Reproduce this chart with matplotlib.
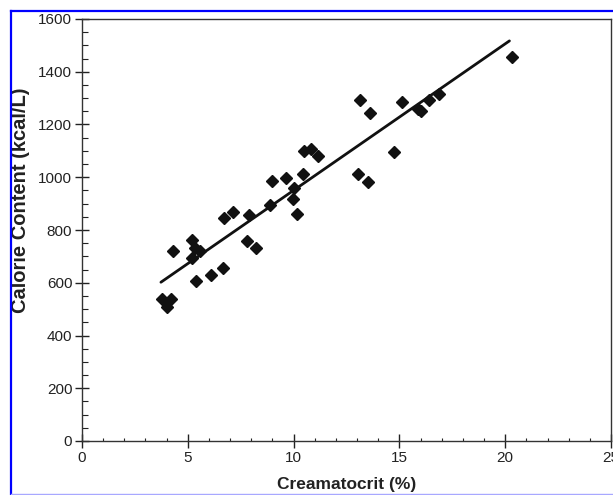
import matplotlib.pyplot as plt
from matplotlib.lines import Line2D
from matplotlib.ticker import MultipleLocator

plt.rcParams["font.family"] = ["Liberation Sans", "DejaVu Sans"]

# creamatocrit (%) vs calorie content (kcal/L)
creamatocrit = [3.8, 4.0, 4.2, 4.3, 5.2, 5.2, 5.35, 5.4, 5.6, 6.1, 6.65,
                6.7, 7.15, 7.8, 7.9, 8.2, 8.9, 9.0, 9.65, 10.0, 9.95, 10.15,
                10.45, 10.5, 10.8, 11.15, 13.05, 13.15, 13.5, 13.6, 14.75,
                15.1, 15.9, 16.0, 16.4, 16.85, 20.3]
calories = [538, 507, 538, 722, 762, 695, 731, 608, 720, 629, 655,
            847, 868, 758, 855, 733, 895, 986, 996, 958, 916, 861,
            1011, 1099, 1108, 1081, 1012, 1292, 983, 1242, 1097,
            1284, 1258, 1252, 1291, 1316, 1457]

# regression line end points
fit_x = [3.73, 20.2]
fit_y = [602, 1517]

fig = plt.figure(figsize=(6.13, 4.95), dpi=100)
ax = fig.add_axes([82 / 613, 54 / 495, 529 / 613, 422 / 495])

ax.plot(fit_x, fit_y, color="#111111", lw=2, solid_capstyle="round")
ax.plot(creamatocrit, calories, ls="none", marker="D", ms=5.8,
        color="#111111")

ax.set_xlim(0, 25)
ax.set_ylim(0, 1600)
ax.xaxis.set_major_locator(MultipleLocator(5))
ax.xaxis.set_minor_locator(MultipleLocator(1))
ax.yaxis.set_major_locator(MultipleLocator(200))
ax.yaxis.set_minor_locator(MultipleLocator(50))
ax.tick_params(which="major", direction="inout", length=10, width=1,
               labelsize=11, color="#222222", labelcolor="#222222")
ax.tick_params(axis="x", which="major", pad=2)
ax.tick_params(axis="y", which="major", pad=2)
ax.tick_params(which="minor", direction="in", length=4, width=0.8,
               color="#222222")
ax.tick_params(axis="x", which="minor", length=2.5)
for s in ax.spines.values():
    s.set_linewidth(1)
    s.set_color("#333333")

ax.set_xlabel("Creamatocrit (%)", fontsize=12.5, fontweight="bold",
              color="#222222", va="center")
ax.xaxis.set_label_coords(0.5, -44 / 422)
ax.set_ylabel("Calorie Content (kcal/L)", fontsize=14.5, fontweight="bold",
              color="#222222", va="center")
ax.yaxis.set_label_coords(-61 / 529, 241 / 422)

# blue selection frame
fig.add_artist(Line2D([10.5 / 613, 1], [1 - 10.5 / 495, 1 - 10.5 / 495],
                      color="#0000ff", lw=1.6))
fig.add_artist(Line2D([10.5 / 613, 10.5 / 613], [1.5 / 495, 1 - 10.5 / 495],
                      color="#0000ff", lw=1.6))
fig.add_artist(Line2D([10.5 / 613, 1], [1.5 / 495, 1.5 / 495],
                      color="#a8a8ff", lw=1))

fig.savefig("out.png", dpi=100)
